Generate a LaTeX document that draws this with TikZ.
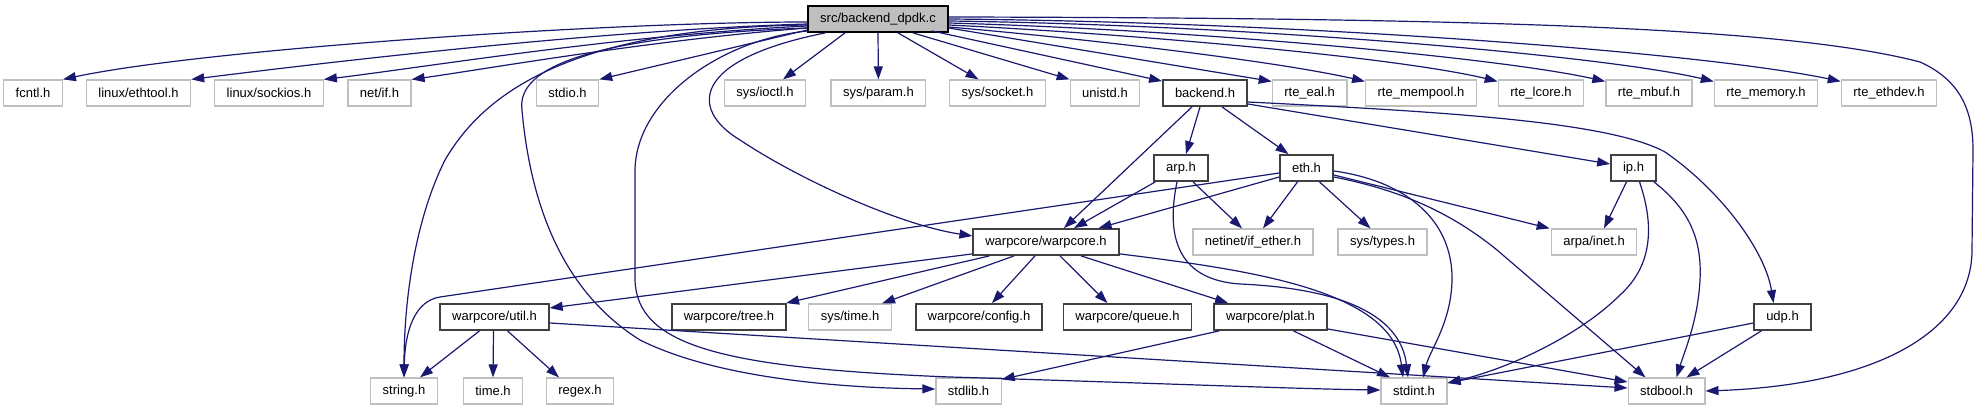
\documentclass[tikz,border=0pt]{standalone}
\usepackage{fontspec}
\setmainfont{Liberation Sans}
\usepackage{tikz}
\usetikzlibrary{arrows.meta,calc}
\definecolor{edgeblue}{RGB}{25,25,112}
\definecolor{extgray}{RGB}{191,191,191}
\definecolor{docgray}{RGB}{64,64,64}
\definecolor{rootgray}{RGB}{191,191,191}
\newcommand{\hdrfont}{\fontsize{6.5pt}{7pt}\selectfont}

\begin{document}
\begin{tikzpicture}[x=0.5pt,y=-0.5pt,
  ext/.style={draw=extgray,line width=0.6pt,fill=white,font=\hdrfont,
    minimum height=13pt,inner xsep=6pt,inner ysep=0pt},
  doc/.style={ext,draw=docgray,line width=0.9pt},
  root/.style={doc,draw=black,fill=rootgray},
  inc/.style={draw=edgeblue,line width=0.6pt,-{Triangle[length=6.5pt,width=4.5pt]}}]
  \useasboundingbox (0,0) rectangle (1981,411);
  % row 1: the source file
  \node[root] (src) at (878,19) {src/backend\_dpdk.c};
  % row 2
  \node[ext] (fcntl)   at (33,93)     {fcntl.h};
  \node[ext] (ethtool) at (138.5,93)  {linux/ethtool.h};
  \node[ext] (sockios) at (269,93)    {linux/sockios.h};
  \node[ext] (netif)   at (379.5,93)  {net/if.h};
  \node[ext] (stdio)   at (567.5,93)  {stdio.h};
  \node[ext] (ioctl)   at (765,93)    {sys/ioctl.h};
  \node[ext] (param)   at (878.4,93)  {sys/param.h};
  \node[ext] (socket)  at (997.5,93)  {sys/socket.h};
  \node[ext] (unistd)  at (1105,93)   {unistd.h};
  \node[doc] (backend) at (1205,93)   {backend.h};
  \node[ext] (rteeal)  at (1309.6,93) {rte\_eal.h};
  \node[ext] (mempool) at (1421,93)   {rte\_mempool.h};
  \node[ext] (lcore)   at (1541,93)   {rte\_lcore.h};
  \node[ext] (mbuf)    at (1649,93)   {rte\_mbuf.h};
  \node[ext] (memory)  at (1766,93)   {rte\_memory.h};
  \node[ext] (ethdev)  at (1889,93)   {rte\_ethdev.h};
  % row 3
  \node[doc] (arp) at (1181,168)   {arp.h};
  \node[doc] (eth) at (1306.5,168) {eth.h};
  \node[doc] (ip)  at (1633.5,168) {ip.h};
  % row 4
  \node[doc] (warpcore) at (1046,242)   {warpcore/warpcore.h};
  \node[ext] (ifether)  at (1253,242)   {netinet/if\_ether.h};
  \node[ext] (systypes) at (1382.5,242) {sys/types.h};
  \node[ext] (inet)     at (1594,242)   {arpa/inet.h};
  % row 5
  \node[doc] (util)    at (494.5,317)  {warpcore/util.h};
  \node[doc] (tree)    at (729,317)    {warpcore/tree.h};
  \node[ext] (systime) at (850,317)    {sys/time.h};
  \node[doc] (config)  at (979,317)    {warpcore/config.h};
  \node[doc] (queue)   at (1127.5,317) {warpcore/queue.h};
  \node[doc] (plat)    at (1270.5,317) {warpcore/plat.h};
  \node[doc] (udp)     at (1782.5,317) {udp.h};
  % row 6
  \node[ext] (string)  at (404,391)    {string.h};
  \node[ext] (time)    at (493,391)    {time.h};
  \node[ext] (regex)   at (580,391)    {regex.h};
  \node[ext] (stdlib)  at (968.5,391)  {stdlib.h};
  \node[ext] (stdint)  at (1414,391)   {stdint.h};
  \node[ext] (stdbool) at (1666.5,391) {stdbool.h};

  % includes of src/backend_dpdk.c, left side
  \draw[inc] ($(src.west)+(0,3)$) .. controls (600,22) and (200,50) .. (fcntl.north east);
  \draw[inc] ($(src.west)+(0,5)$) .. controls (600,30) and (330,62) .. (ethtool.north east);
  \draw[inc] ($(src.west)+(0,7)$) .. controls (620,35) and (420,68) .. (sockios.north east);
  \draw[inc] ($(src.west)+(0,9)$) .. controls (650,40) and (480,70) .. (netif.north east);
  \draw[inc] ($(src.west)+(0,11)$) -- (stdio.north east);
  \draw[inc] ($(src.west)+(0,6)$) .. controls (560,28) and (480,100) .. (445,160)
    .. controls (415,220) and (404,300) .. (string.north);
  \draw[inc] ($(src.west)+(0,9)$) .. controls (620,35) and (515,60) .. (522,110)
    .. controls (530,200) and (560,290) .. (640,340)
    .. controls (720,380) and (850,388) .. ($(stdlib.west)+(0,-2)$);
  \draw[inc] ($(src.west)+(0,12)$) .. controls (720,40) and (636,100) .. (635,170) -- (635,280)
    .. controls (637,345) and (720,368) .. (950,377)
    .. controls (1150,383) and (1300,389) .. ($(stdint.west)+(0,-1)$);
  \draw[inc] ($(src.south west)+(18,0)$) .. controls (690,60) and (690,110) .. (740,140)
    .. controls (800,180) and (900,225) .. ($(warpcore.west)+(0,-6)$);
  % straight below
  \draw[inc] ($(src.south)+(-33,0)$) -- ($(ioctl.north)+(18,0)$);
  \draw[inc] (src.south) -- (param.north);
  \draw[inc] ($(src.south)+(20,0)$) -- ($(socket.north)+(-19,0)$);
  \draw[inc] ($(src.south)+(35,0)$) -- (unistd.north west);
  \draw[inc] ($(src.south east)+(-17,-2)$) -- ($(backend.north west)+(0,2)$);
  % right side
  \draw[inc] ($(src.east)+(0,9)$) -- ($(rteeal.north west)+(0,2)$);
  \draw[inc] ($(src.east)+(0,8)$) .. controls (1100,40) and (1280,62) .. ($(mempool.north west)+(0,2)$);
  \draw[inc] ($(src.east)+(0,6)$) .. controls (1150,35) and (1400,58) .. ($(lcore.north west)+(0,2)$);
  \draw[inc] ($(src.east)+(0,4)$) .. controls (1200,30) and (1500,58) .. ($(mbuf.north west)+(0,2)$);
  \draw[inc] ($(src.east)+(0,2)$) .. controls (1250,25) and (1600,55) .. ($(memory.north west)+(0,2)$);
  \draw[inc] (src.east) .. controls (1300,22) and (1700,52) .. ($(ethdev.north west)+(0,2)$);
  \draw[inc] ($(src.east)+(0,-2)$) .. controls (1500,18) and (1790,28) .. (1920,62)
    .. controls (1960,80) and (1973,110) .. (1973,150) -- (1972,250)
    .. controls (1972,330) and (1880,385) .. (stdbool.east);

  % backend.h
  \draw[inc] ($(backend.south)+(-13,0)$) -- ($(warpcore.north)+(18,0)$);
  \draw[inc] ($(backend.south)+(-5,0)$) -- ($(arp.north)+(5,0)$);
  \draw[inc] ($(backend.south)+(17,0)$) -- ($(eth.north)+(-18,0)$);
  \draw[inc] ($(backend.east)+(0,11)$) -- ($(ip.west)+(0,-4)$);
  \draw[inc] ($(backend.east)+(0,9)$) .. controls (1450,112) and (1610,122) .. (1665,152)
    .. controls (1720,190) and (1765,250) .. ($(udp.north)+(-9,0)$);

  % arp.h
  \draw[inc] ($(arp.south west)+(2,0)$) -- ($(warpcore.north)+(28,0)$);
  \draw[inc] ($(arp.south)+(12,0)$) -- ($(ifether.north)+(-11,0)$);
  \draw[inc] ($(arp.south)+(-4,0)$) .. controls (1165,240) and (1180,280) .. (1240,284)
    .. controls (1330,288) and (1400,310) .. ($(stdint.north)+(-6,0)$);

  % eth.h
  \draw[inc] ($(eth.west)+(0,5)$) -- (440,297) .. controls (415,301) and (405,330) .. (string.north);
  \draw[inc] ($(eth.west)+(0,9)$) -- ($(warpcore.north east)+(-21,0)$);
  \draw[inc] ($(eth.south)+(-9,0)$) -- ($(ifether.north)+(10,0)$);
  \draw[inc] ($(eth.south)+(13,0)$) -- ($(systypes.north)+(-12,0)$);
  \draw[inc] ($(eth.east)+(0,7)$) -- ($(inet.north west)+(-1,0)$);
  \draw[inc] ($(eth.east)+(0,3)$) .. controls (1400,180) and (1450,215) .. (1452,275)
    .. controls (1453,320) and (1430,350) .. ($(stdint.north)+(9,0)$);
  \draw[inc] ($(eth.east)+(0,9)$) .. controls (1400,190) and (1450,212) .. (1497,250)
    -- ($(stdbool.north west)+(18,0)$);

  % ip.h
  \draw[inc] ($(ip.south)+(-7,0)$) -- ($(inet.north)+(10,0)$);
  \draw[inc] ($(ip.south)+(6,0)$) .. controls (1656,230) and (1650,268) .. (1620,295)
    .. controls (1580,335) and (1510,368) .. ($(stdint.east)+(0,-8)$);
  \draw[inc] ($(ip.south east)+(-3,0)$) .. controls (1690,210) and (1702,240) .. (1700,280)
    .. controls (1698,320) and (1685,350) .. ($(stdbool.north)+(10,0)$);

  % udp.h
  \draw[inc] ($(udp.west)+(0,6)$) -- ($(stdint.east)+(0,-8)$);
  \draw[inc] ($(udp.south west)+(8,0)$) -- ($(stdbool.north)+(20,0)$);

  % warpcore/warpcore.h
  \draw[inc] ($(warpcore.south west)+(0,-2)$) -- ($(util.east)+(0,-9)$);
  \draw[inc] ($(warpcore.south west)+(17,0)$) -- ($(tree.north east)+(-1,0)$);
  \draw[inc] ($(warpcore.south)+(-32,0)$) -- ($(systime.north)+(32,0)$);
  \draw[inc] ($(warpcore.south)+(-11,0)$) -- ($(config.north)+(13,0)$);
  \draw[inc] ($(warpcore.south)+(14,0)$) -- ($(queue.north)+(-20,0)$);
  \draw[inc] ($(warpcore.south)+(35,0)$) -- ($(plat.north west)+(15,0)$);
  \draw[inc] ($(warpcore.south east)+(0,-2)$) .. controls (1250,270) and (1392,290) .. ($(stdint.north)+(-11,0)$);

  % warpcore/util.h
  \draw[inc] ($(util.south)+(-15,0)$) -- ($(string.north)+(16,0)$);
  \draw[inc] ($(util.south)+(-1,0)$) -- (time.north);
  \draw[inc] ($(util.south)+(13,0)$) -- ($(regex.north)+(-21,0)$);
  \draw[inc] ($(util.east)+(0,6)$) -- ($(stdbool.west)+(0,-3)$);

  % warpcore/plat.h
  \draw[inc] ($(plat.south west)+(6,0)$) -- ($(stdlib.north east)+(0,2)$);
  \draw[inc] ($(plat.south)+(23,0)$) -- ($(stdint.north)+(-24,0)$);
  \draw[inc] ($(plat.east)+(0,12)$) -- ($(stdbool.west)+(0,-9)$);
\end{tikzpicture}
\end{document}
